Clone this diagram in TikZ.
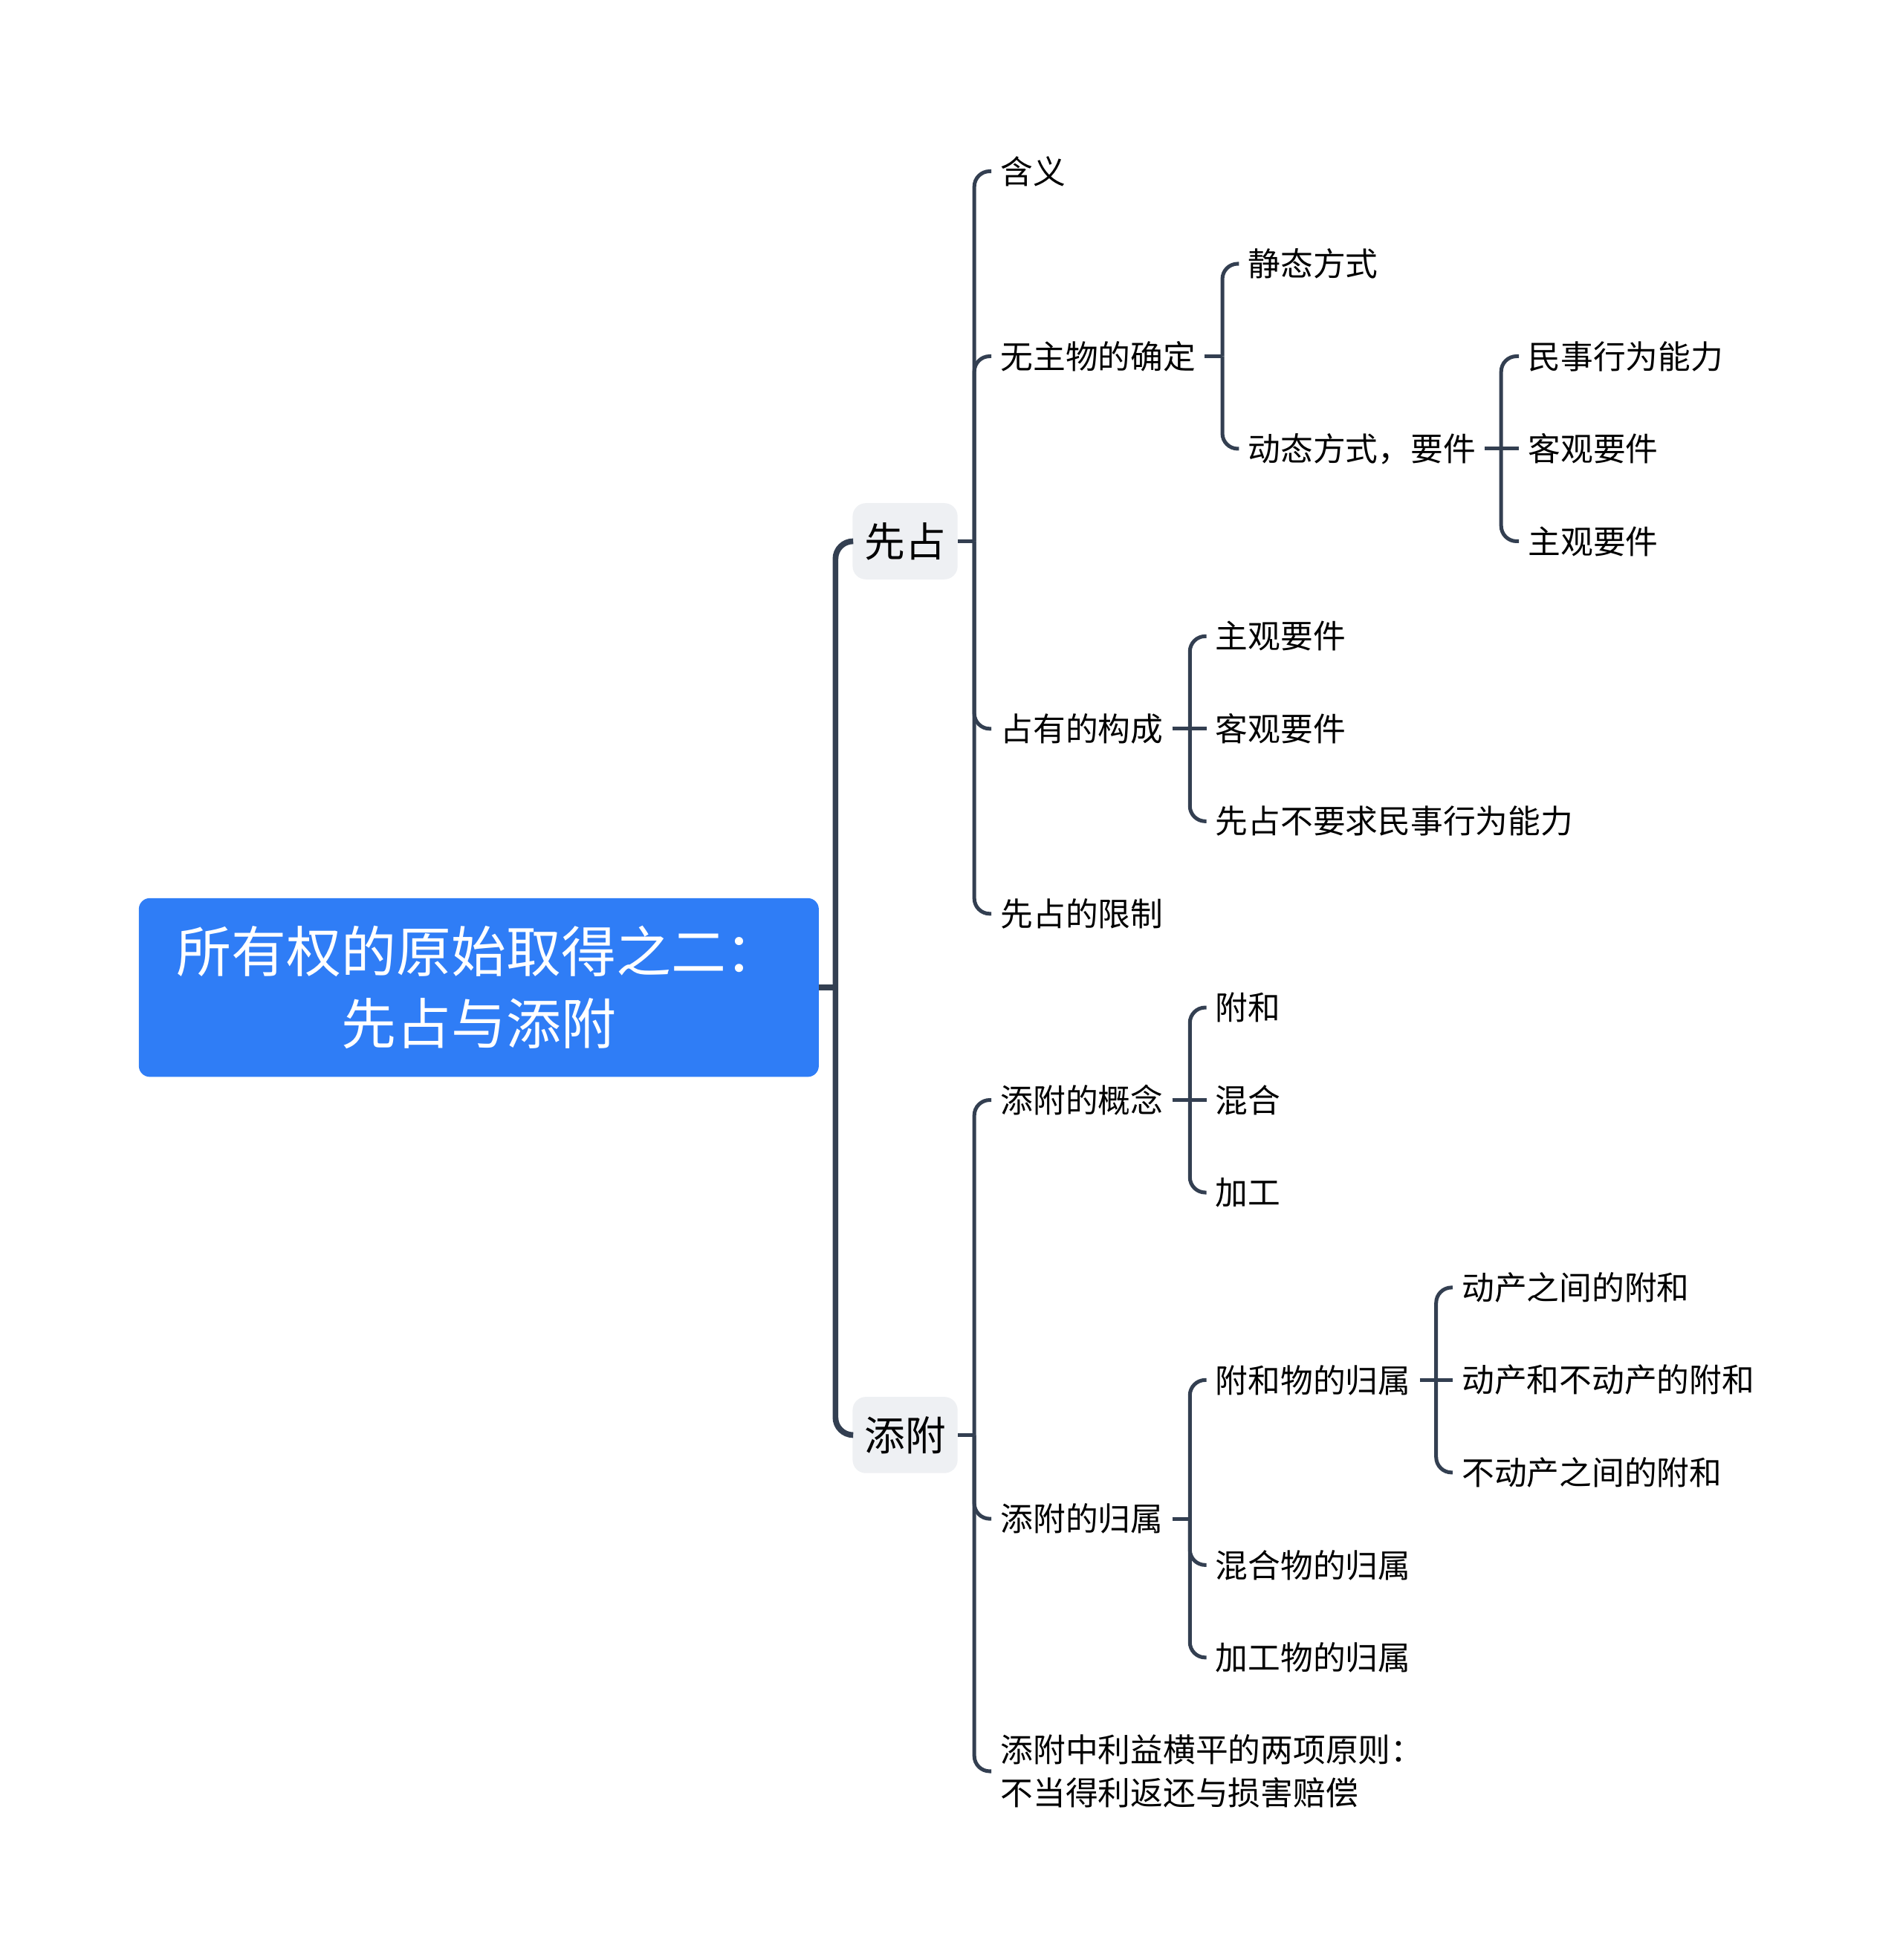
\documentclass[tikz,border=0pt]{standalone}
\usepackage{fontspec}
\setmainfont{Noto Sans CJK SC}
\definecolor{linkc}{HTML}{333F51}
\definecolor{rootblue}{HTML}{2F7DF6}
\definecolor{mainfill}{HTML}{EEF0F3}
\begin{document}
\begin{tikzpicture}[
    x=0.02cm, y=-0.02cm,
    root/.style={rectangle, rounded corners=5pt, fill=rootblue, text=white, minimum width=10.88cm, minimum height=2.86cm, align=center, font=\fontsize{25pt}{33pt}\selectfont},
    main/.style={rectangle, rounded corners=6pt, fill=mainfill, minimum width=1.68cm, minimum height=1.22cm, font=\fontsize{18.5pt}{22pt}\selectfont},
    leaf/.style={anchor=west, inner xsep=4pt, inner ysep=2pt, align=left, font=\fontsize{14.8pt}{19.4pt}\selectfont},
    link/.style={draw=linkc, line width=1.7pt, rounded corners=7pt},
    trunk/.style={draw=linkc, line width=2.6pt, rounded corners=8pt}
]
    \useasboundingbox (0,0) rectangle (1522,1568);

    \node[root] (root) at (383,790) {所有权的原始取得之二：\\先占与添附};
    \node[main] (xz) at (724,433) {先占};
    \node[main] (tf) at (724,1148) {添附};

    \node[leaf] (hy) at (793,137) {含义};
    \node[leaf] (wz) at (793,285) {无主物的确定};
    \node[leaf] (zy) at (793,583) {占有的构成};
    \node[leaf] (xx) at (793,731) {先占的限制};

    \node[leaf] (jt) at (991,211) {静态方式};
    \node[leaf] (dt) at (991,359) {动态方式，要件};

    \node[leaf] (ms) at (1215,285) {民事行为能力};
    \node[leaf] (kg1) at (1215,359) {客观要件};
    \node[leaf] (zg1) at (1215,433) {主观要件};

    \node[leaf] (zg2) at (965,509) {主观要件};
    \node[leaf] (kg2) at (965,583) {客观要件};
    \node[leaf] (bq) at (965,657) {先占不要求民事行为能力};

    \node[leaf] (gn) at (793,880) {添附的概念};
    \node[leaf] (gs) at (793,1215) {添附的归属};
    \node[leaf] (yz) at (793,1417) {添附中利益横平的两项原则：\\不当得利返还与损害赔偿};

    \node[leaf] (fh) at (965,806) {附和};
    \node[leaf] (hh) at (965,880) {混合};
    \node[leaf] (jg) at (965,954) {加工};

    \node[leaf] (fhw) at (965,1104) {附和物的归属};
    \node[leaf] (hhw) at (965,1252) {混合物的归属};
    \node[leaf] (jgw) at (965,1326) {加工物的归属};

    \node[leaf] (dd) at (1162,1030) {动产之间的附和};
    \node[leaf] (db) at (1162,1104) {动产和不动产的附和};
    \node[leaf] (bb) at (1162,1178) {不动产之间的附和};

    % root to main topics
    \draw[trunk] (root.east) -- ++(13,0);
    \draw[trunk] (root.east) ++(13,0) |- (xz.west);
    \draw[trunk] (root.east) ++(13,0) |- (tf.west);

    % xian zhan
    \draw[link] (xz.east) -- ++(13,0);
    \draw[link] (xz.east) ++(13,0) |- (hy.west);
    \draw[link] (xz.east) ++(13,0) |- (wz.west);
    \draw[link] (xz.east) ++(13,0) |- (zy.west);
    \draw[link] (xz.east) ++(13,0) |- (xx.west);

    \draw[link] (wz.east) -- ++(14,0);
    \draw[link] (wz.east) ++(14,0) |- (jt.west);
    \draw[link] (wz.east) ++(14,0) |- (dt.west);

    \draw[link] (dt.east) -- ++(13,0);
    \draw[link] (dt.east) ++(13,0) |- (ms.west);
    \draw[link] (dt.east) -- (kg1.west);
    \draw[link] (dt.east) ++(13,0) |- (zg1.west);

    \draw[link] (zy.east) -- ++(14,0);
    \draw[link] (zy.east) ++(14,0) |- (zg2.west);
    \draw[link] (zy.east) -- (kg2.west);
    \draw[link] (zy.east) ++(14,0) |- (bq.west);

    % tian fu
    \draw[link] (tf.east) -- ++(13,0);
    \draw[link] (tf.east) ++(13,0) |- (gn.west);
    \draw[link] (tf.east) ++(13,0) |- (gs.west);
    \draw[link] (tf.east) ++(13,0) |- (yz.west);

    \draw[link] (gn.east) -- ++(14,0);
    \draw[link] (gn.east) ++(14,0) |- (fh.west);
    \draw[link] (gn.east) -- (hh.west);
    \draw[link] (gn.east) ++(14,0) |- (jg.west);

    \draw[link] (gs.east) -- ++(14,0);
    \draw[link] (gs.east) ++(14,0) |- (fhw.west);
    \draw[link] (gs.east) ++(14,0) |- (hhw.west);
    \draw[link] (gs.east) ++(14,0) |- (jgw.west);

    \draw[link] (fhw.east) -- ++(13,0);
    \draw[link] (fhw.east) ++(13,0) |- (dd.west);
    \draw[link] (fhw.east) -- (db.west);
    \draw[link] (fhw.east) ++(13,0) |- (bb.west);
\end{tikzpicture}
\end{document}
